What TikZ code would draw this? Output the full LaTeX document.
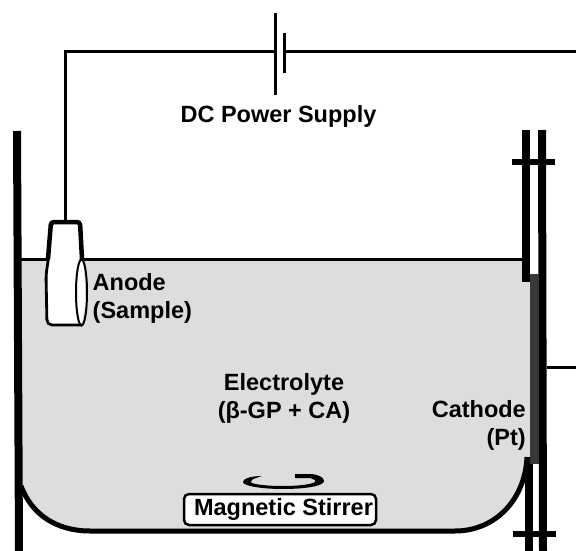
\documentclass[tikz,border=0pt]{standalone}
\usepackage{fontspec}
\setmainfont{Liberation Sans}
\usetikzlibrary{arrows,calc,positioning}
\definecolor{bath}{gray}{0.865}
\definecolor{platinum}{gray}{0.22}
\tikzset{
    >=stealth',
    wall/.style={
           draw=black,
           line width=8pt},
    clamp/.style={
           draw=black,
           line width=5.5pt},
    wire/.style={
           draw=black,
           line width=3pt},
    lbl/.style={
           font=\fontsize{23.5}{28}\selectfont\bfseries,
           inner sep=0pt,
           align=center}
}

\begin{document}
\begin{tikzpicture}[x=1pt,y=-1pt]
        \useasboundingbox (0,0) rectangle (576,551);
        % electrolyte
        \fill[bath] (21,259) -- (525,259) -- (530,275) -- (530,457) -- (527,457)
            .. controls (525,500) and (495,531) .. (455,531) -- (85,531)
            .. controls (50,531) and (24,515) .. (20,480) -- cycle;
        \draw[line width=3pt] (20,259) -- (523,259);
        \draw[line width=5pt] (21,486) .. controls (32,515) and (57,531) .. (90,531)
            -- (455,531) .. controls (495,531) and (525,500) .. (527,457);

        % cell walls
        \draw[wall] (17,131) -- (19,551);
        \draw[wall] (526,130) -- (526,282);
        \draw[wall] (542,130) -- (543,551);
        \draw[wall] (528.5,457) -- (528.5,551);
        \fill[platinum] (530,274) rectangle (539,464);
        \draw[clamp] (512,162) -- (555,162);
        \draw[clamp] (513,534) -- (556,534);

        % circuit
        \coordinate (lead) at (65,222);
        \coordinate (corner) at (65,52);
        \coordinate (platea) at (275,52);
        \coordinate (plateb) at (284,52);
        \coordinate (out) at (576,52);
        \coordinate (back) at (547,367);
        \coordinate (backout) at (576,367);
        \draw[wire] (lead) -- (corner) -- (platea);
        \draw[wire] (plateb) -- (out);
        \draw[wire] (back) -- (backout);
        \draw[wire] (275,13) -- (275,95);
        \draw[wire] (284,33) -- (284,73);

        % sample
        \fill[white] (48,259) -- (51,222) -- (80,222) -- (83,259) -- (86,300) -- (82,325) -- (47,325) -- (46,275) -- cycle;
        \draw[line width=4.5pt,rounded corners=3pt] (48,259) -- (51,222) -- (80,222) -- (82,259);
        \draw[line width=2.8pt,rounded corners=5pt] (48.5,258) -- (46,275) -- (47,325) -- (82,325);
        \draw[line width=2pt] (81.5,292.5) ellipse (5.5pt and 33pt);

        % stirrer
        \node[lbl,draw=black,line width=2.5pt,fill=white,rounded corners=5pt,minimum width=192pt,minimum height=31pt] (stirrer) at (280,509.5) {\hspace*{7pt}Magnetic Stirrer};
        \fill (262,476) .. controls (250,476) and (243,479) .. (243,482)
            .. controls (243,486) and (262,489) .. (283,489)
            .. controls (305,489) and (324,486) .. (324,481)
            .. controls (324,477) and (318,475) .. (312,474) -- (295,474) -- (295,478) -- (310,478)
            .. controls (316,480) and (316,481) .. (315,482)
            .. controls (310,485) and (295,486) .. (283,486)
            .. controls (265,486) and (251,484) .. (251,482)
            .. controls (251,479) and (256,478) .. (262,476);

        % labels
        \node[lbl] (supply) at (278.5,116.5) {DC Power Supply};
        \node[lbl,align=left,anchor=west] (anode) at (92.5,298.5) {Anode\\(Sample)};
        \node[lbl] (electrolyte) at (284,398.5) {Electrolyte\\(β-GP + CA)};
        \node[lbl,align=right,anchor=east] (cathode) at (526,425.5) {Cathode\\(Pt)};
    \end{tikzpicture}
\end{document}
